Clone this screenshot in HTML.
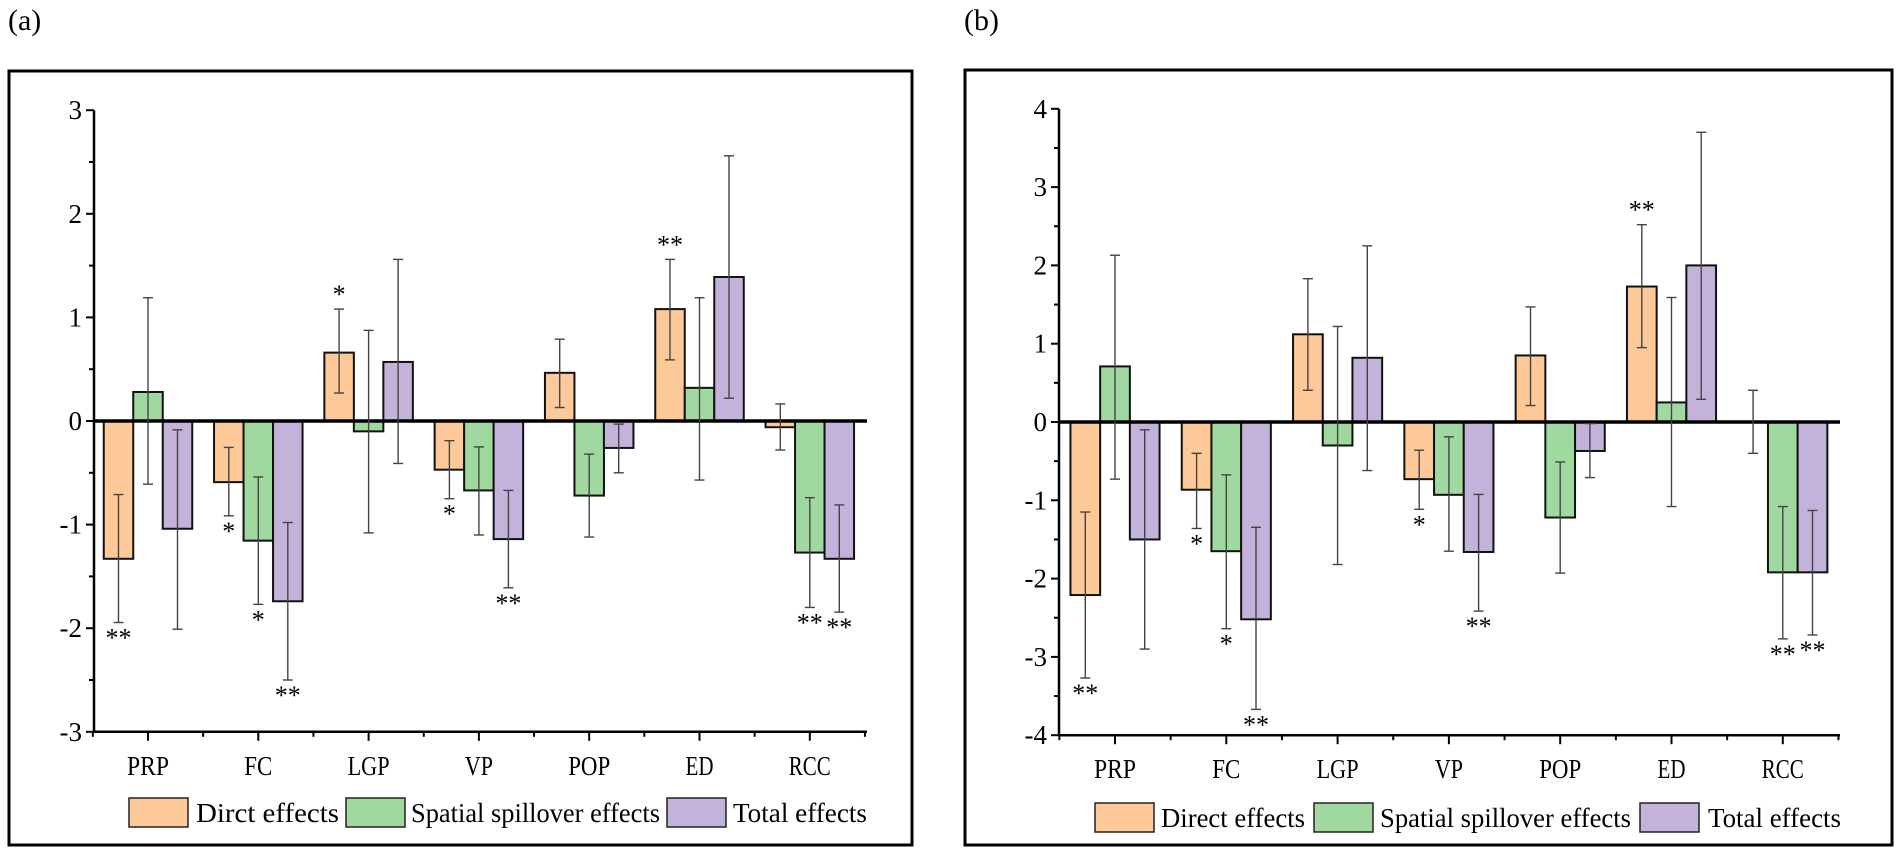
<!DOCTYPE html>
<html><head><meta charset="utf-8"><style>
html,body{margin:0;padding:0;background:#fff;}
svg{display:block;font-family:"Liberation Serif","Times New Roman",serif;}
svg text{font-family:"Liberation Serif","Times New Roman",serif;}
</style></head><body>
<svg id="fig" width="1902" height="854" viewBox="0 0 1902 854" font-family="Liberation Serif, Times New Roman, serif"></svg>
<script>
const categories = ["PRP","FC","LGP","VP","POP","ED","RCC"];
const seriesNames = ["Direct effects","Spatial spillover effects","Total effects"];
const legendNamesA = ["Dirct effects","Spatial spillover effects","Total effects"];
const seriesColors = ["#FDC998","#9FD9A0","#C3B3DA"];
// panel (a)
const aDirect = [-1.33,-0.59,0.66,-0.47,0.465,1.08,-0.06];
const aDirectLo = [-1.945,-0.915,0.27,-0.75,0.13,0.59,-0.28];
const aDirectHi = [-0.71,-0.255,1.08,-0.19,0.79,1.56,0.165];
const aSpill = [0.28,-1.155,-0.10,-0.67,-0.72,0.32,-1.27];
const aSpillLo = [-0.61,-1.77,-1.08,-1.10,-1.12,-0.57,-1.80];
const aSpillHi = [1.19,-0.54,0.875,-0.25,-0.32,1.19,-0.74];
const aTotal = [-1.04,-1.74,0.57,-1.14,-0.26,1.39,-1.33];
const aTotalLo = [-2.01,-2.50,-0.41,-1.61,-0.50,0.22,-1.845];
const aTotalHi = [-0.085,-0.98,1.56,-0.67,-0.03,2.56,-0.81];
const aSigDirect = ["**","*","*","*","","**",""];
const aSigSpill = ["","*","","","","","**"];
const aSigTotal = ["","**","","**","","","**"];
const aTicks = [3,2,1,0,-1,-2,-3];
// panel (b)
const bDirect = [-2.21,-0.865,1.12,-0.73,0.85,1.73,0.0];
const bDirectLo = [-3.27,-1.36,0.405,-1.115,0.21,0.95,-0.40];
const bDirectHi = [-1.15,-0.40,1.83,-0.36,1.47,2.52,0.405];
const bSpill = [0.71,-1.65,-0.30,-0.93,-1.22,0.25,-1.92];
const bSpillLo = [-0.73,-2.64,-1.82,-1.65,-1.93,-1.08,-2.77];
const bSpillHi = [2.13,-0.675,1.22,-0.19,-0.51,1.59,-1.08];
const bTotal = [-1.50,-2.52,0.82,-1.66,-0.37,2.0,-1.92];
const bTotalLo = [-2.90,-3.67,-0.62,-2.415,-0.71,0.29,-2.72];
const bTotalHi = [-0.10,-1.345,2.25,-0.925,-0.02,3.70,-1.13];
const bSigDirect = ["**","*","","*","","**",""];
const bSigSpill = ["","*","","","","","**"];
const bSigTotal = ["","**","","**","","","**"];
const bTicks = [4,3,2,1,0,-1,-2,-3,-4];

const NS="http://www.w3.org/2000/svg";
const svg=document.getElementById('fig');
function mk(tag,attrs,parent){const e=document.createElementNS(NS,tag);for(const k in attrs)e.setAttribute(k,attrs[k]);(parent||svg).appendChild(e);return e;}

function drawPanel(p){
  const g=mk('g',{});
  
  
  const fr=mk('rect',{x:p.fx,y:p.fy,width:p.fw,height:p.fh,fill:'none',stroke:'#000','stroke-width':3},g);
  
  
  const pl=mk('text',{x:p.fx-1,y:30,'font-size':30,fill:'#000'},g);
  pl.textContent=p.label;
  
  
  const yScale=v=>p.y0-v*p.unit;
  const xScale=i=>p.cx0+i*p.step;
  const yMin=p.ticks[p.ticks.length-1], yMax=p.ticks[0];
  const ya=mk('line',{x1:p.ax,y1:yScale(yMax),x2:p.ax,y2:yScale(yMin),stroke:'#000','stroke-width':2.5},g);
  
  
  for(let v=yMin; v<=yMax+1e-9; v+=0.5){
    const major=Math.abs(v-Math.round(v))<1e-9;
    mk('line',{x1:p.ax-(major?8:5),y1:yScale(v),x2:p.ax,y2:yScale(v),stroke:'#000','stroke-width':2},g);
  }
  p.ticks.forEach(t=>{
    const tx=mk('text',{x:p.ax-12,y:yScale(t)+9,'font-size':27,'text-anchor':'end',fill:'#000'},g);
    tx.textContent=String(t);
    
    
  });
  const xa=mk('line',{x1:p.ax,y1:yScale(yMin),x2:p.xEnd,y2:yScale(yMin),stroke:'#000','stroke-width':2.5},g);
  
  
  categories.forEach((c,i)=>{
    mk('line',{x1:xScale(i),y1:yScale(yMin),x2:xScale(i),y2:yScale(yMin)+9,stroke:'#000','stroke-width':2},g);
    mk('line',{x1:xScale(i)+p.step/2,y1:yScale(yMin),x2:xScale(i)+p.step/2,y2:yScale(yMin)+5,stroke:'#000','stroke-width':2},g);
    const tx=mk('text',{x:xScale(i),y:p.labY,'font-size':27,'text-anchor':'middle',fill:'#000',textLength:c.length*14,lengthAdjust:'spacingAndGlyphs'},g);
    tx.textContent=c;
    
    
  });
  mk('line',{x1:xScale(-0.5),y1:yScale(yMin),x2:xScale(-0.5),y2:yScale(yMin)+5,stroke:'#000','stroke-width':2},g);
  const bw=p.bw;
  p.series.forEach((s,si)=>{
    categories.forEach((c,i)=>{
      const cx=xScale(i)+(si-1)*bw;
      const v=s.vals[i];
      const y1=yScale(Math.max(v,0)), y2=yScale(Math.min(v,0));
      const r=mk('rect',{x:cx-bw/2,y:y1,width:bw,height:Math.max(y2-y1,0.5),fill:seriesColors[si],stroke:'#111','stroke-width':2},g);
      
      
    });
  });
  mk('line',{x1:p.ax,y1:yScale(0),x2:p.xEnd,y2:yScale(0),stroke:'#000','stroke-width':3.5},g);
  p.series.forEach((s,si)=>{
    categories.forEach((c,i)=>{
      const cx=xScale(i)+(si-1)*bw;
      const lo=yScale(s.lo[i]), hi=yScale(s.hi[i]);
      const eb=mk('g',{stroke:'#444','stroke-width':1.4},g);
      
      
      mk('line',{x1:cx,y1:lo,x2:cx,y2:hi},eb);
      mk('line',{x1:cx-5,y1:lo,x2:cx+5,y2:lo},eb);
      mk('line',{x1:cx-5,y1:hi,x2:cx+5,y2:hi},eb);
      const sg=s.sig[i];
      if(sg){
        const neg=s.vals[i]<0;
        const ty=neg? lo+24 : hi-6;
        const t=mk('text',{x:cx,y:ty,'font-size':26,'text-anchor':'middle',fill:'#000'},g);
        t.textContent=sg;
        
        
      }
    });
  });
  p.legend.forEach((L,li)=>{
    const lg=mk('g',{},g);
    
    
    mk('rect',{x:L.bx,y:p.legY,width:59,height:29,fill:seriesColors[li],stroke:'#222','stroke-width':1.5},lg);
    const t=mk('text',{x:L.tx,y:p.legY+24,'font-size':27,fill:'#000',textLength:L.tw,lengthAdjust:'spacingAndGlyphs'},lg);
    t.textContent=L.text;
  });
}

drawPanel({name:'panel-a',label:'(a)',fx:9,fy:71,fw:903,fh:774,ax:94,y0:421,unit:103.6,ticks:aTicks,
  cx0:148,step:110.3,xEnd:867,bw:29.5,labY:775,legY:798,
  series:[{vals:aDirect,lo:aDirectLo,hi:aDirectHi,sig:aSigDirect},{vals:aSpill,lo:aSpillLo,hi:aSpillHi,sig:aSigSpill},{vals:aTotal,lo:aTotalLo,hi:aTotalHi,sig:aSigTotal}],
  legend:[{bx:129,tx:196,tw:143,text:legendNamesA[0]},{bx:346,tx:411,tw:249,text:legendNamesA[1]},{bx:667,tx:733,tw:134,text:legendNamesA[2]}]});
drawPanel({name:'panel-b',label:'(b)',fx:965,fy:70,fw:927,fh:775,ax:1059,y0:422,unit:78.3,ticks:bTicks,
  cx0:1115,step:111.3,xEnd:1840,bw:29.7,labY:778,legY:803,
  series:[{vals:bDirect,lo:bDirectLo,hi:bDirectHi,sig:bSigDirect},{vals:bSpill,lo:bSpillLo,hi:bSpillHi,sig:bSigSpill},{vals:bTotal,lo:bTotalLo,hi:bTotalHi,sig:bSigTotal}],
  legend:[{bx:1095,tx:1161,tw:144,text:seriesNames[0]},{bx:1314,tx:1380,tw:251,text:seriesNames[1]},{bx:1640,tx:1708,tw:133,text:seriesNames[2]}]});
</script>
</body></html>
